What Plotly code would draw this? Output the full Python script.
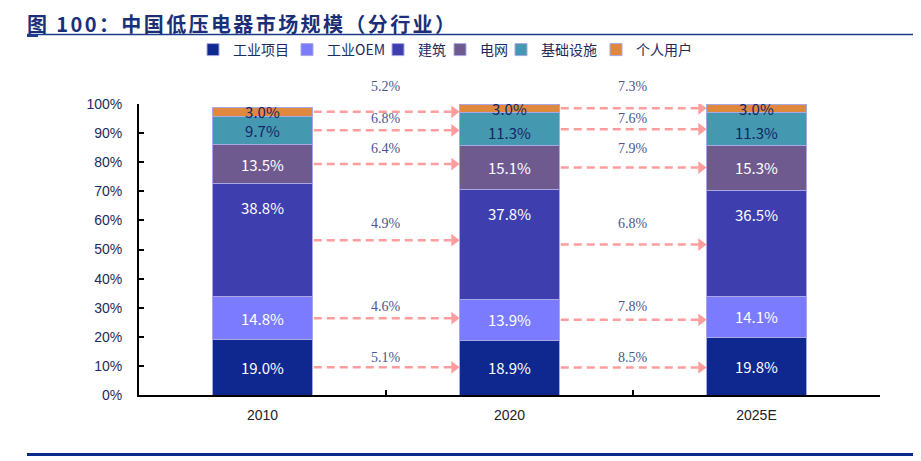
import plotly.graph_objects as go

# ---------------- data ----------------
years = ["2010", "2020", "2025E"]
segments = ["工业项目", "工业OEM", "建筑", "电网", "基础设施", "个人用户"]
share_2010 = [19.0, 14.8, 38.8, 13.5, 9.7, 3.0]
share_2020 = [18.9, 13.9, 37.8, 15.1, 11.3, 3.0]
share_2025e = [19.8, 14.1, 36.5, 15.3, 11.3, 3.0]
cagr_2010_2020 = [5.1, 4.6, 4.9, 6.4, 6.8, 5.2]
cagr_2020_2025e = [8.5, 7.8, 6.8, 7.9, 7.6, 7.3]
y_ticks = [0, 10, 20, 30, 40, 50, 60, 70, 80, 90, 100]

# ---------------- style / layout ----------------
W, H = 921, 461
OFF = 8  # page body margin: figure is drawn 8px in from the window corner
ML, MR, MT, MB = 131, 49, 96, 74
PW, PH = W - ML - MR, H - MT - MB
colors = ["#0F2890", "#7B7BFF", "#3E3EAE", "#6F5A90", "#4499B0", "#E0883E"]
text_colors = ["#FFFFFF", "#FFFFFF", "#FFFFFF", "#FFFFFF", "#152466", "#152466"]
text_anchor = ["middle", "middle", "top-label", "middle", "start", "middle"]
legend_widths = [49, 46, 17, 16, 50, 60]
bar_w = 0.405
arrow_color = "#FF9D9D"
growth_label_y = [12.9, 30.3, 59.0, 84.7, 95.0, 105.9]
CJK = "Noto Sans CJK SC"
label_font = dict(family=CJK, size=15)


def px_to_paper_x(px):
    return (px - OFF - ML) / PW


def px_to_paper_y(py):
    return (H - MB - (py - OFF)) / PH


all_shares = [share_2010, share_2020, share_2025e]
xpos = list(range(len(years)))

fig = go.Figure()

for i, seg in enumerate(segments):
    vals = [s[i] for s in all_shares]
    labels = [f"{v:.1f}%" for v in vals]
    own_text = text_anchor[i] != "top-label"
    fig.add_trace(go.Bar(
        x=xpos, y=vals, name=seg, width=bar_w,
        marker=dict(color=colors[i], line=dict(color="#A8A8E6", width=1)),
        text=labels if own_text else None,
        textposition="inside" if own_text else "none",
        insidetextanchor=text_anchor[i] if own_text else "middle",
        constraintext="none",
        textfont=dict(label_font, color=text_colors[i]),
        legendwidth=legend_widths[i],
        hoverinfo="skip",
    ))
    if not own_text:
        # label drawn just below the top edge of this segment
        for k, shares in enumerate(all_shares):
            top = sum(shares[: i + 1])
            fig.add_annotation(
                x=xpos[k], y=top, xref="x", yref="y", yanchor="middle",
                yshift=-24, showarrow=False, text=labels[k],
                font=dict(label_font, color=text_colors[i]),
            )


def midpoints(shares):
    mids, acc = [], 0.0
    for v in shares:
        mids.append(acc + v / 2)
        acc += v
    return mids


growths = [cagr_2010_2020, cagr_2020_2025e]
for g in range(len(years) - 1):
    mids = midpoints(all_shares[g])
    x0 = g + bar_w / 2 + 0.005
    x1 = g + 1 - bar_w / 2 - 0.022
    lx, ly = [], []
    for m in mids:
        lx += [x0, x1, None]
        ly += [m, m, None]
    fig.add_trace(go.Scatter(
        x=lx, y=ly, mode="lines", showlegend=False, hoverinfo="skip",
        line=dict(color=arrow_color, width=2.5, dash="8px,5px"),
    ))
    fig.add_trace(go.Scatter(
        x=[x1] * len(mids), y=mids, mode="markers", showlegend=False,
        hoverinfo="skip",
        marker=dict(symbol="triangle-right", size=11, color=arrow_color),
    ))
    for i, v in enumerate(growths[g]):
        fig.add_annotation(
            x=g + 0.5, y=growth_label_y[i] / 100, xref="x", yref="paper",
            xanchor="center", yanchor="middle",
            text=f"{v:.1f}%", showarrow=False,
            font=dict(family="Liberation Serif", size=14, color="#4A5690"),
        )

# title
fig.add_annotation(
    xref="paper", yref="paper", x=px_to_paper_x(26), y=px_to_paper_y(OFF),
    xanchor="left", yanchor="top", showarrow=False, borderpad=0,
    text="<span style='letter-spacing:2.4px'><b>图 100：中国低压电器市场规模（分行业）</b></span>",
    font=dict(family=CJK, size=20, color="#1B2F78"),
)
# title rule
fig.add_shape(type="line", xref="paper", yref="paper",
              x0=px_to_paper_x(27), x1=px_to_paper_x(921),
              y0=px_to_paper_y(34.5), y1=px_to_paper_y(34.5),
              line=dict(color="#1F3C8C", width=1.5))
fig.add_shape(type="line", xref="paper", yref="paper",
              x0=px_to_paper_x(27), x1=px_to_paper_x(38),
              y0=px_to_paper_y(35.5), y1=px_to_paper_y(35.5),
              line=dict(color="#1F3C8C", width=3))
# bottom rule
fig.add_shape(type="line", xref="paper", yref="paper",
              x0=px_to_paper_x(27), x1=px_to_paper_x(921),
              y0=px_to_paper_y(454.5), y1=px_to_paper_y(454.5),
              line=dict(color="#0A2A8A", width=3))

fig.update_layout(
    width=W, height=H,
    margin=dict(l=ML, r=MR, t=MT, b=MB, autoexpand=False),
    barmode="stack",
    plot_bgcolor="white", paper_bgcolor="white",
    showlegend=True,
    legend=dict(
        orientation="h", xref="container", yref="container",
        x=(213 - OFF - 20) / W, xanchor="left",
        y=1 - (50 - OFF) / H, yanchor="middle",
        traceorder="normal",
        font=dict(family=CJK, size=14, color="#1E2A5A"),
        itemwidth=30,
        bgcolor="rgba(0,0,0,0)",
    ),
    xaxis=dict(
        range=[-0.5, len(years) - 0.5],
        tickmode="array", tickvals=xpos, ticktext=years, ticks="",
        showline=True, linecolor="black", linewidth=2,
        showgrid=False, zeroline=False, fixedrange=True,
        tickfont=dict(family="Liberation Sans", size=14, color="#222222"),
        ticklabelstandoff=6,
        minor=dict(tickvals=[0.5, 1.5], ticks="inside", ticklen=5,
                   tickcolor="black", tickwidth=2),
    ),
    yaxis=dict(
        range=[0, 100], tickmode="array", tickvals=y_ticks,
        ticktext=[f"{t}%" for t in y_ticks],
        ticks="inside", ticklen=5, tickwidth=2, tickcolor="black",
        showline=True, linecolor="black", linewidth=2,
        showgrid=False, zeroline=False,
        tickfont=dict(family="Liberation Sans", size=14, color="#1E2A5A"),
        ticklabelstandoff=12,
    ),
)

fig.write_html("out.html")
